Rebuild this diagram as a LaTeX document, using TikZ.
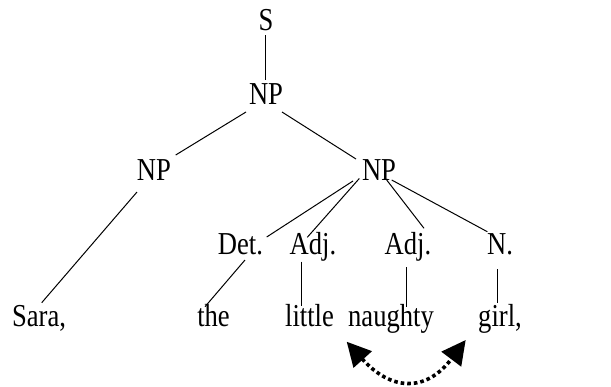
\documentclass[tikz,border=0pt]{standalone}
\usepackage{fontspec}
\usepackage{graphicx}
\setmainfont{Liberation Serif}
\usetikzlibrary{arrows.meta}
\newcommand\vstretch[1]{\scalebox{1}[1.2]{#1}}
\begin{document}
\begin{tikzpicture}[x=1pt,y=-1pt,
  lbl/.style={anchor=base, inner sep=0pt, font=\fontsize{26.6}{30}\selectfont},
  edge/.style={line width=1pt},
  swap/.style={line width=3.6pt, dash pattern=on 3.6pt off 3pt,
    {Triangle[length=24pt,width=24pt]}-{Triangle[length=24pt,width=24pt]}}]
\useasboundingbox (0,0) rectangle (611,386);
\node[lbl] (s) at (266,30.7) {\vstretch{S}};
\node[lbl] (np0) at (266,104) {\vstretch{NP}};
\node[lbl] (npl) at (154,180) {\vstretch{NP}};
\node[lbl] (npr) at (379,180) {\vstretch{NP}};
\node[lbl] (det) at (240.5,254) {\vstretch{Det.}};
\node[lbl] (adj1) at (313,254) {\vstretch{Adj.}};
\node[lbl] (adj2) at (408,254) {\vstretch{Adj.}};
\node[lbl] (n) at (500,254) {\vstretch{N.}};
\node[lbl] (sara) at (39,326.5) {\vstretch{Sara,}};
\node[lbl] (the) at (213.5,326.5) {\vstretch{the}};
\node[lbl] (little) at (309.5,326.5) {\vstretch{little}};
\node[lbl] (naughty) at (391,326.5) {\vstretch{naughty}};
\node[lbl] (girl) at (500,326.5) {\vstretch{girl,}};
\draw[edge] ([shift={(-1,4.3)}]s.base) -- ([shift={(-1,-24)}]np0.base);
\draw[edge] ([shift={(-20,8)}]np0.base) -- ([shift={(21.7,-25)}]npl.base);
\draw[edge] ([shift={(16,8)}]np0.base) -- ([shift={(-23,-21)}]npr.base);
\draw[edge] ([shift={(-17,12)}]npl.base) -- ([shift={(2.7,-23.8)}]sara.base);
\draw[edge] ([shift={(-26,1)}]npr.base) -- ([shift={(26.2,-17)}]det.base);
\draw[edge] ([shift={(-19.7,-1.5)}]npr.base) -- ([shift={(-5.7,-16.7)}]adj1.base);
\draw[edge] ([shift={(7.7,0)}]npr.base) -- ([shift={(16,-25.7)}]adj2.base);
\draw[edge] ([shift={(12.7,0)}]npr.base) -- ([shift={(-12.7,-22.3)}]n.base);
\draw[edge] ([shift={(4.5,6)}]det.base) -- ([shift={(-8.5,-19.8)}]the.base);
\draw[edge] ([shift={(-11.3,7.7)}]adj1.base) -- ([shift={(-7.8,-20.5)}]little.base);
\draw[edge] ([shift={(-2,13.3)}]adj2.base) -- ([shift={(15,-19.8)}]naughty.base);
\draw[edge] ([shift={(-2.3,15)}]n.base) -- ([shift={(-2.3,-23.5)}]girl.base);
\coordinate (tipl) at (346.7,341.7);
\coordinate (tipr) at (465.7,340);
\draw[swap] (tipl) to[out=-48,in=-127,looseness=1.42] (tipr);
\end{tikzpicture}
\end{document}
